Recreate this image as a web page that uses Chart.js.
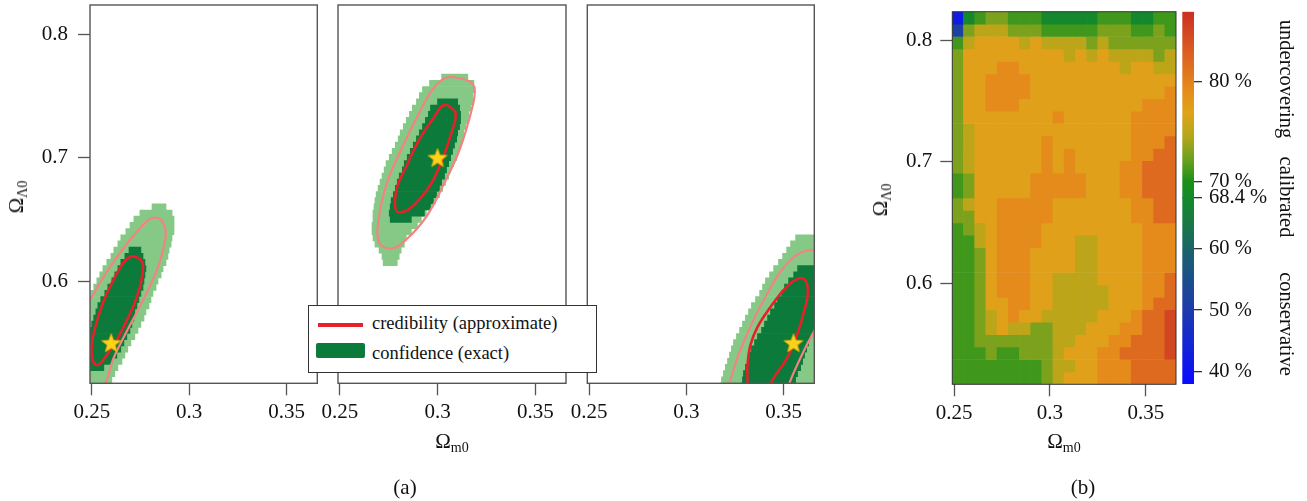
<!DOCTYPE html>
<html>
<head>
<meta charset="utf-8">
<script src="https://cdn.jsdelivr.net/npm/chart.js@4.4.1/dist/chart.umd.min.js"></script>
<style>
  body { margin: 0; background: #fff; }
  #wrap { position: relative; width: 1307px; height: 501px; overflow: hidden;
          font-family: 'Liberation Serif', 'Times New Roman', serif; color: #111; }
  canvas { position: absolute; top: 0; }
  .lab { position: absolute; font-size: 21px; line-height: 1; white-space: nowrap; transform: translate(-50%, -50%); }
  .lab sub { font-size: 14px; vertical-align: -4px; }
  .rotl { transform: translate(-50%, -50%) rotate(-90deg); }
  .rotr { transform: translate(-50%, -50%) rotate(90deg); font-size: 20.5px; }
  #legend { position: absolute; left: 308px; top: 305px; width: 289px; height: 68px; box-sizing: border-box;
            border: 1px solid #333; background: #fff; }
  #legend .ln { position: absolute; left: 9px; top: 17px; width: 45px; height: 4px; background: #e8202a; }
  #legend .bx { position: absolute; left: 7px; top: 37px; width: 49px; height: 15px; background: #0c7a3b; border-radius: 2px; }
  #legend .tx { position: absolute; left: 63px; font-size: 18.5px; line-height: 18.5px; white-space: nowrap; }
</style>
</head>
<body>
<div id="wrap">
  <canvas id="p1" width="330" height="430" style="left:0px"></canvas>
  <canvas id="p2" width="290" height="430" style="left:300px"></canvas>
  <canvas id="p3" width="280" height="430" style="left:550px"></canvas>
  <canvas id="heat" width="330" height="430" style="left:860px"></canvas>
  <canvas id="cbar" width="147" height="430" style="left:1160px"></canvas>

  <div id="legend">
    <div class="ln"></div><span class="tx" style="top:8px">credibility (approximate)</span>
    <div class="bx"></div><span class="tx" style="top:38px">confidence (exact)</span>
  </div>

  <div class="lab rotl" style="left:18px;top:197px">Ω<sub>Λ0</sub></div>
  <div class="lab rotl" style="left:882px;top:200px">Ω<sub>Λ0</sub></div>
  <div class="lab" style="left:452px;top:443px">Ω<sub>m0</sub></div>
  <div class="lab" style="left:1064px;top:443px">Ω<sub>m0</sub></div>
  <div class="lab" style="left:405px;top:487px">(a)</div>
  <div class="lab" style="left:1083px;top:487px">(b)</div>
  <div class="lab rotr" style="left:1287px;top:79px">undercovering</div>
  <div class="lab rotr" style="left:1287px;top:197px">calibrated</div>
  <div class="lab rotr" style="left:1287px;top:324px">conservative</div>
</div>
<script>
// Axis ranges and ticks shared by all panels
const X_RANGE = [0.2491, 0.3657];
const Y_RANGE = [0.5172, 0.8235];
const X_TICKS = [0.25, 0.3, 0.35];
const Y_TICKS = [0.6, 0.7, 0.8];

// Panel 1: confidence cells per row (light = outer, dark = inner), true value, credibility contours
const P1_TRUTH = [0.26, 0.55];
const P1_ROWS = [0.660, 0.655, 0.650, 0.645, 0.640, 0.635, 0.630, 0.625, 0.620, 0.615, 0.610, 0.605, 0.600, 0.595, 0.590,
                 0.585, 0.580, 0.575, 0.570, 0.565, 0.560, 0.555, 0.550, 0.545, 0.540, 0.535, 0.530, 0.525, 0.520, 0.515];
const P1_LIGHT = [[0.2809, 0.2881], [0.2747, 0.2912], [0.2716, 0.2922], [0.2696, 0.2922], [0.2675, 0.2922], [0.2649, 0.2912],
                  [0.2634, 0.2907], [0.2613, 0.2897], [0.2598, 0.2891], [0.2577, 0.2881], [0.2557, 0.2866], [0.2541, 0.2856],
                  [0.2526, 0.2840], [0.2510, 0.2830], [0.2495, 0.2814], [0.249, 0.2804], [0.249, 0.2794], [0.249, 0.2778],
                  [0.249, 0.2768], [0.249, 0.2752], [0.249, 0.2737], [0.249, 0.2721], [0.249, 0.2701], [0.249, 0.2685],
                  [0.249, 0.2670], [0.249, 0.2655], [0.249, 0.2634], [0.249, 0.2618], [0.249, 0.2603], [0.249, 0.2593]];
const P1_DARK = [null, null, null, null, null, null, null,
                 [0.2691, 0.2752], [0.2670, 0.2763], [0.2649, 0.2773], [0.2634, 0.2778], [0.2618, 0.2773], [0.2603, 0.2768],
                 [0.2582, 0.2763], [0.2567, 0.2752], [0.2546, 0.2742], [0.2531, 0.2732], [0.2521, 0.2721], [0.2510, 0.2716],
                 [0.2500, 0.2706], [0.249, 0.2696], [0.249, 0.2680], [0.249, 0.2665], [0.249, 0.2649], [0.249, 0.2629],
                 [0.249, 0.2603], [0.249, 0.2562], null, null, null];
const P1_CRED68 = [[0.2711, 0.6203], [0.2747, 0.6178], [0.2763, 0.6130], [0.2752, 0.5984], [0.2716, 0.5806], [0.2680, 0.5684],
                   [0.2629, 0.5522], [0.2577, 0.5401], [0.2531, 0.5320], [0.2505, 0.5360], [0.2500, 0.5482], [0.2521, 0.5644],
                   [0.2557, 0.5822], [0.2603, 0.5984], [0.2644, 0.6105], [0.2680, 0.6178], [0.2711, 0.6203]];
const P1_CRED95 = [[0.2541, 0.5101], [0.2577, 0.5198], [0.2608, 0.5360], [0.2675, 0.5579], [0.2763, 0.5846], [0.2840, 0.6113],
                   [0.2876, 0.6332], [0.2876, 0.6429], [0.2850, 0.6502], [0.2809, 0.6510], [0.2773, 0.6470], [0.2696, 0.6332],
                   [0.2593, 0.6113], [0.2500, 0.5870], [0.2459, 0.5749]];

// Panel 2
const P2_TRUTH = [0.30, 0.70];
const P2_ROWS = [0.765, 0.760, 0.755, 0.750, 0.745, 0.740, 0.735, 0.730, 0.725, 0.720, 0.715, 0.710, 0.705, 0.700, 0.695, 0.690,
                 0.685, 0.680, 0.675, 0.670, 0.665, 0.660, 0.655, 0.650, 0.645, 0.640, 0.635, 0.630, 0.625, 0.620, 0.615];
const P2_LIGHT = [[0.3021, 0.3155], [0.2959, 0.3186], [0.2923, 0.3191], [0.2907, 0.3180], [0.2892, 0.3180], [0.2871, 0.3170],
                  [0.2856, 0.3160], [0.2840, 0.3155], [0.2825, 0.3144], [0.2809, 0.3134], [0.2799, 0.3129], [0.2784, 0.3119],
                  [0.2768, 0.3108], [0.2753, 0.3098], [0.2737, 0.3082], [0.2727, 0.3067], [0.2716, 0.3057], [0.2706, 0.3041],
                  [0.2696, 0.3026], [0.2686, 0.3010], [0.2680, 0.2990], [0.2675, 0.2969], [0.2670, 0.2943], [0.2670, 0.2917],
                  [0.2665, 0.2897], [0.2665, 0.2866], [0.2670, 0.2840], [0.2680, 0.2830], [0.2701, 0.2814], [0.2716, 0.2804],
                  [0.2722, 0.2794]];
const P2_DARK = [null, null, null, null,
                 [0.3000, 0.3103], [0.2964, 0.3113], [0.2953, 0.3118], [0.2938, 0.3118], [0.2923, 0.3113], [0.2907, 0.3103],
                 [0.2892, 0.3098], [0.2876, 0.3087], [0.2861, 0.3077], [0.2845, 0.3067], [0.2830, 0.3057], [0.2820, 0.3046],
                 [0.2804, 0.3036], [0.2794, 0.3021], [0.2784, 0.3010], [0.2774, 0.2995], [0.2763, 0.2979], [0.2758, 0.2964],
                 [0.2753, 0.2933], [0.2758, 0.2866], null, null, null, null, null, null, null];
const P2_CRED68 = [[0.3046, 0.7429], [0.3092, 0.7364], [0.3072, 0.7203], [0.3010, 0.6927], [0.2958, 0.6765], [0.2871, 0.6603],
                   [0.2804, 0.6555], [0.2783, 0.6603], [0.2794, 0.6765], [0.2840, 0.6927], [0.2907, 0.7146], [0.2984, 0.7332],
                   [0.3020, 0.7413], [0.3046, 0.7429]];
const P2_CRED95 = [[0.3072, 0.7656], [0.3164, 0.7616], [0.3190, 0.7551], [0.3175, 0.7389], [0.3113, 0.7065], [0.3036, 0.6798],
                   [0.2943, 0.6522], [0.2840, 0.6336], [0.2763, 0.6263], [0.2701, 0.6312], [0.2701, 0.6522], [0.2742, 0.6798],
                   [0.2814, 0.7065], [0.2897, 0.7332], [0.2974, 0.7551], [0.3025, 0.7632], [0.3072, 0.7656]];

// Panel 3
const P3_TRUTH = [0.355, 0.55];
const P3_ROWS = [0.635, 0.630, 0.625, 0.620, 0.615, 0.610, 0.605, 0.600, 0.595, 0.590, 0.585, 0.580, 0.575,
                 0.570, 0.565, 0.560, 0.555, 0.550, 0.545, 0.540, 0.535, 0.530, 0.525, 0.520, 0.515];
const P3_LIGHT = [[0.3561, 0.367], [0.3535, 0.367], [0.3515, 0.367], [0.3494, 0.367], [0.3473, 0.367], [0.3448, 0.367],
                  [0.3427, 0.367], [0.3406, 0.367], [0.3391, 0.367], [0.3376, 0.367], [0.3355, 0.367], [0.3334, 0.367],
                  [0.3319, 0.367], [0.3303, 0.367], [0.3288, 0.367], [0.3273, 0.367], [0.3257, 0.367], [0.3242, 0.367],
                  [0.3231, 0.367], [0.3221, 0.367], [0.3211, 0.367], [0.3200, 0.367], [0.3190, 0.367], [0.3180, 0.367],
                  [0.3175, 0.367]];
const P3_DARK = [null, null, null, null, null,
                 [0.3571, 0.367], [0.3551, 0.367], [0.3525, 0.367], [0.3504, 0.367], [0.3489, 0.367], [0.3468, 0.367],
                 [0.3453, 0.367], [0.3432, 0.367], [0.3417, 0.367], [0.3401, 0.367], [0.3386, 0.367], [0.3365, 0.3638],
                 [0.3350, 0.3628], [0.3334, 0.3618], [0.3324, 0.3607], [0.3314, 0.3597], [0.3303, 0.3587], [0.3293, 0.3571],
                 [0.3288, 0.3561], [0.3283, 0.3556]];
const P3_CRED68 = [[0.3422, 0.5101], [0.3442, 0.5198], [0.3520, 0.5384], [0.3571, 0.5579], [0.3602, 0.5741], [0.3623, 0.5887],
                   [0.3618, 0.5984], [0.3592, 0.6024], [0.3551, 0.6000], [0.3499, 0.5927], [0.3432, 0.5789], [0.3365, 0.5627],
                   [0.3329, 0.5482], [0.3314, 0.5320], [0.3314, 0.5198], [0.3314, 0.5101]];
const P3_CRED95 = [[0.3206, 0.5101], [0.3226, 0.5198], [0.3267, 0.5401], [0.3314, 0.5579], [0.3365, 0.5749], [0.3417, 0.5903],
                   [0.3468, 0.6041], [0.3520, 0.6146], [0.3566, 0.6211], [0.3612, 0.6243], [0.3664, 0.6251], [0.3715, 0.6211],
                   [0.3741, 0.6089], [0.3715, 0.5846], [0.3679, 0.5700], [0.3659, 0.5603], [0.3618, 0.5482], [0.3576, 0.5344],
                   [0.3535, 0.5198], [0.3515, 0.5101]];

// Panel (b): coverage map, one string per row from top, one code per column
const HEAT_CODES = '0123456789a';
const HEAT_LEVELS = [42, 52, 60, 68, 71, 72.8, 75, 77.3, 79.2, 82, 85];  // coverage % for each code
const HEAT_ROWS = [
  '03455444333334443344', '15666555444445554454', '46777767666656555555', '57777777776767666656',
  '57778877777777767766', '57788887777777777777', '57788887777777777778', '57788877777777777888',
  '57777777787777778888', '56777777777777778888', '56777777877777778889', '56777777878777778899',
  '56777777878777788999', '45777778888877788999', '45777778888877788999', '56778888877777778899',
  '55778888877777778899', '45678888777777777888', '44678888777667777888', '44578887777667777888',
  '44578887777667777888', '44578887766667777889', '44578887766666777889', '44577887766666777899',
  '4456787766666777899a', '4456766556667778899a', '4455555556677788999a', '4445445556777889999a',
  '44444444566778889999', '44444444567778889999'];

// Colour bar
const CBAR_RANGE = [37.9, 87];
const CBAR_TICKS = [40, 50, 60, 68.4, 70, 80];
const CBAR_LABELS = ['40 %', '50 %', '60 %', '68.4 %', '70 %', '80 %'];
const CBAR_STOPS = [[37.9, '#0a0aff'], [45, '#1428d0'], [50, '#1d3aac'], [55, '#1c4e8c'], [60, '#1a6468'], [64.5, '#197a44'],
                    [68.4, '#148a2a'], [70, '#1c8f1a'], [72, '#62a01e'], [74.5, '#b4a61a'], [77, '#e0a31a'],
                    [79.5, '#e4881c'], [82, '#de6a20'], [84.5, '#d44c22'], [87, '#cc2e22']];

const FONT = "'Liberation Serif', 'Times New Roman', serif";

// colour bar is stretched above 68.4 %
const tcov = c => c <= 68.4 ? (c - 68.4) * 0.61 : (c - 68.4);

function hexRgb(h) { return [1, 3, 5].map(i => parseInt(h.slice(i, i + 2), 16)); }
function coverColor(c) {
  for (let i = 1; i < CBAR_STOPS.length; i++) {
    const [c0, h0] = CBAR_STOPS[i - 1], [c1, h1] = CBAR_STOPS[i];
    if (c <= c1 || i === CBAR_STOPS.length - 1) {
      const t = Math.max(0, Math.min(1, (c - c0) / (c1 - c0)));
      const a = hexRgb(h0), b = hexRgb(h1);
      return 'rgb(' + a.map((v, k) => Math.round(v + (b[k] - v) * t)).join(',') + ')';
    }
  }
}

// filled yellow star used as the point style for the true value
function makeStar(r) {
  const c = document.createElement('canvas');
  c.width = c.height = 2 * r + 4;
  const g = c.getContext('2d');
  g.beginPath();
  for (let i = 0; i < 10; i++) {
    const rad = i % 2 ? r * 0.42 : r;
    const a = -Math.PI / 2 + i * Math.PI / 5;
    g.lineTo(c.width / 2 + rad * Math.cos(a), c.height / 2 + 1 + rad * Math.sin(a));
  }
  g.closePath();
  g.fillStyle = '#ffd21a'; g.fill();
  g.strokeStyle = '#e8b000'; g.lineWidth = 0.8; g.stroke();
  return c;
}
const STAR = makeStar(10);

// box round the plot area
const frame = (color, width) => ({
  id: 'frame',
  afterDatasetsDraw(chart) {
    const a = chart.chartArea, ctx = chart.ctx;
    ctx.save();
    ctx.strokeStyle = color; ctx.lineWidth = width;
    ctx.strokeRect(a.left, a.top, a.right - a.left, a.bottom - a.top);
    ctx.restore();
  }
});

// drop the label overflow padding so the plot area sits where the layout says
const noPad = s => { s.paddingTop = 0; s.paddingBottom = 0; s.paddingLeft = 0; s.paddingRight = 0; };

function xScale(height) {
  return {
    type: 'linear', min: X_RANGE[0], max: X_RANGE[1], offset: false,
    afterBuildTicks: s => { s.ticks = X_TICKS.map(v => ({ value: v })); },
    afterFit: s => { s.height = height; noPad(s); },
    border: { display: false },
    grid: { offset: false, drawOnChartArea: false, tickLength: 12, tickColor: '#555', tickWidth: 1.3 },
    ticks: { font: { family: FONT, size: 21 }, color: '#111', padding: 5, maxRotation: 0, autoSkip: false, callback: v => String(v) }
  };
}
function yScale(show, width, pad) {
  return {
    type: 'linear', min: Y_RANGE[0], max: Y_RANGE[1], offset: false, display: show,
    afterBuildTicks: s => { s.ticks = Y_TICKS.map(v => ({ value: v })); },
    afterFit: s => { if (show) s.width = width; noPad(s); },
    border: { display: false },
    grid: { offset: false, drawOnChartArea: false, tickLength: 12, tickColor: '#555', tickWidth: 1.3 },
    ticks: { font: { family: FONT, size: 21 }, color: '#111', padding: pad, autoSkip: false, callback: v => String(v) }
  };
}

const baseOptions = padding => ({
  responsive: false, animation: false, events: [],
  layout: { padding: padding },
  plugins: { legend: { display: false }, tooltip: { enabled: false } }
});

function makePanel(id, rows, light, dark, cred68, cred95, truth, showY, padding) {
  const cells = (ext, color, order) => ({
    type: 'bar', indexAxis: 'y', order: order, clip: 0, grouped: false,
    categoryPercentage: 1, barPercentage: 1, backgroundColor: color,
    data: rows.map((y, i) => ext[i] ? { y: y, x: ext[i] } : null).filter(Boolean)
  });
  const contour = (pts, color, width, order) => ({
    type: 'line', order: order, clip: 0, data: pts.map(p => ({ x: p[0], y: p[1] })),
    borderColor: color, borderWidth: width, pointRadius: 0, tension: 0.4, fill: false
  });
  new Chart(document.getElementById(id), {
    type: 'scatter',
    data: {
      datasets: [
        { type: 'scatter', order: 0, data: [{ x: truth[0], y: truth[1] }], pointStyle: STAR },
        contour(cred68, '#e8202a', 2.6, 1),
        contour(cred95, '#f38383', 2.2, 2),
        cells(dark, '#0c7a3b', 3),
        cells(light, '#86c986', 4)
      ]
    },
    options: Object.assign(baseOptions(padding), {
      elements: { line: { capBezierPoints: false } },
      scales: { x: xScale(46.7), y: yScale(showY, 90, 10) }
    }),
    plugins: [frame('#555', 1.4)]
  });
}

makePanel('p1', P1_ROWS, P1_LIGHT, P1_DARK, P1_CRED68, P1_CRED95, P1_TRUTH, true, { left: 0, top: 5, right: 12.7, bottom: 0 });
makePanel('p2', P2_ROWS, P2_LIGHT, P2_DARK, P2_CRED68, P2_CRED95, P2_TRUTH, false, { left: 38, top: 5, right: 24, bottom: 0 });
makePanel('p3', P3_ROWS, P3_LIGHT, P3_DARK, P3_CRED68, P3_CRED95, P3_TRUTH, false, { left: 37.3, top: 5, right: 15.7, bottom: 0 });

// coverage map: one floating-bar dataset per row of cells
const HEAT_DX = (X_RANGE[1] - X_RANGE[0]) / HEAT_ROWS[0].length;
const HEAT_DY = (Y_RANGE[1] - Y_RANGE[0]) / HEAT_ROWS.length;
const heatSets = HEAT_ROWS.map((row, r) => ({
  type: 'bar', clip: 0, grouped: false, categoryPercentage: 1, barPercentage: 1,
  data: row.split('').map((ch, i) => ({
    x: X_RANGE[0] + (i + 0.5) * HEAT_DX,
    y: [Y_RANGE[1] - (r + 1) * HEAT_DY, Y_RANGE[1] - r * HEAT_DY]
  })),
  backgroundColor: row.split('').map(ch => coverColor(HEAT_LEVELS[HEAT_CODES.indexOf(ch)]))
}));

new Chart(document.getElementById('heat'), {
  type: 'scatter',
  data: { datasets: heatSets },
  options: Object.assign(baseOptions({ left: 0, top: 11.7, right: 14, bottom: 0 }), {
    scales: { x: xScale(45.7), y: yScale(true, 92.3, 8) }
  }),
  plugins: [frame('#333', 1)]
});

// colour bar with its own stretched scale
new Chart(document.getElementById('cbar'), {
  type: 'bar',
  data: {
    labels: [''],
    datasets: [{
      data: [[tcov(CBAR_RANGE[0]), tcov(CBAR_RANGE[1])]],
      categoryPercentage: 1, barPercentage: 1,
      backgroundColor: c => {
        const { ctx, chartArea, scales } = c.chart;
        if (!chartArea) return '#888';
        const top = scales.y.getPixelForValue(tcov(CBAR_RANGE[1]));
        const bot = scales.y.getPixelForValue(tcov(CBAR_RANGE[0]));
        const g = ctx.createLinearGradient(0, bot, 0, top);
        const span = tcov(CBAR_RANGE[1]) - tcov(CBAR_RANGE[0]);
        CBAR_STOPS.forEach(([c0, col]) => g.addColorStop((tcov(c0) - tcov(CBAR_RANGE[0])) / span, col));
        return g;
      }
    }]
  },
  options: Object.assign(baseOptions({ left: 22.3, top: 11.7, right: 0, bottom: 46 }), {
    scales: {
      x: { display: false, afterFit: noPad },
      y: {
        type: 'linear', position: 'right', min: tcov(CBAR_RANGE[0]), max: tcov(CBAR_RANGE[1]), beginAtZero: false,
        afterBuildTicks: s => { s.ticks = CBAR_TICKS.map(c => ({ value: tcov(c) })); },
        afterFit: s => { s.width = 113; noPad(s); },
        border: { display: false },
        grid: {
          drawOnChartArea: true, tickLength: 8, tickColor: '#333', lineWidth: 1.3,
          color: c => c.tick && Math.abs(c.tick.value - tcov(68.4)) < 1e-6 ? '#222' : 'rgba(0,0,0,0)'
        },
        ticks: { font: { family: FONT, size: 20.5 }, color: '#111', padding: 7, autoSkip: false,
                 callback: (v, i) => CBAR_LABELS[i] }
      }
    }
  })
});
</script>
</body>
</html>
